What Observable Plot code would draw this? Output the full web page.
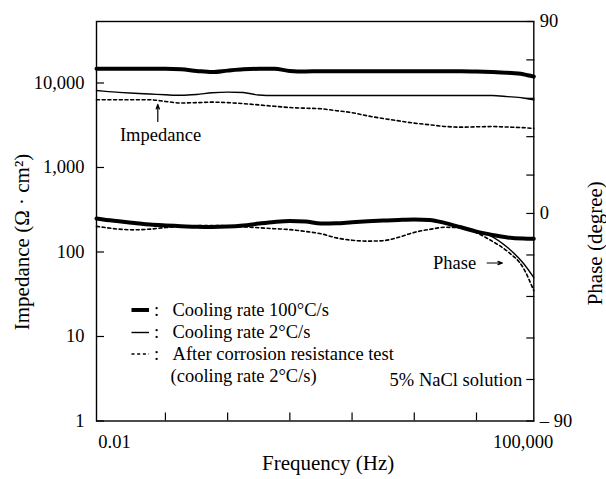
<!DOCTYPE html>
<html><head><meta charset="utf-8">
<script src="https://cdn.jsdelivr.net/npm/d3@7"></script>
<script src="https://cdn.jsdelivr.net/npm/@observablehq/plot@0.6"></script>
<style>html,body{margin:0;padding:0;background:#fff}</style>
</head><body><div id="chart"></div>
<script>
// Frequency grid (Hz), quarter-decade steps
const frequency = [0.0078, 0.01, 0.0178, 0.0316, 0.0562, 0.1, 0.178, 0.316, 0.562, 1, 1.78, 3.16, 5.62, 10, 17.8, 31.6, 56.2, 100, 178, 316, 562, 1000, 1780, 3160, 5620, 10000, 17800, 31600, 56200, 83400];
// Impedance (Ω·cm²)
const impedance100 = [14700,14700,14700,14700,14700,14700,14500,13900,13450,14000,14500,14700,14700,13900,13700,13800,13800,13800,13800,13800,13800,13800,13800,13800,13800,13700,13500,13200,12700,11900];
const impedance2 = [8150,8000,7750,7550,7400,7250,7150,7300,7650,7800,7700,7200,7100,7100,7100,7100,7100,7100,7100,7100,7100,7100,7100,7100,7100,7100,7100,6900,6650,6330];
const impedanceAfter = [6330,6330,6330,6330,6330,6050,5800,5850,5930,5850,5700,5500,5300,5120,5030,4950,4700,4450,4080,3800,3560,3350,3200,3060,3000,3030,3050,3010,2960,2900];
// Phase (degree)
const phase100 = [-2.2,-2.6,-3.4,-4.1,-4.8,-5.2,-5.5,-5.8,-5.9,-5.7,-5.2,-4.4,-3.7,-3.3,-3.5,-4.4,-4.3,-3.8,-3.4,-3.1,-2.8,-2.6,-2.8,-4.2,-6.0,-7.9,-9.3,-10.4,-10.9,-11.0];
const phase2 = [-2.2,-2.6,-3.4,-4.1,-4.8,-5.2,-5.5,-5.8,-5.9,-5.7,-5.2,-4.4,-3.7,-3.3,-3.5,-4.4,-4.3,-3.8,-3.4,-3.1,-2.8,-2.6,-2.8,-4.2,-6.0,-7.9,-10.0,-14.8,-21.5,-27.8];
const phaseAfter = [-5.6,-6.0,-6.8,-7.1,-6.8,-6.1,-5.6,-5.3,-5.2,-5.4,-5.8,-6.2,-6.6,-7.0,-7.8,-8.8,-10.6,-11.6,-12.0,-11.8,-10.3,-8.2,-6.9,-6.0,-6.2,-8.4,-12.0,-16.5,-23.5,-33.5];

// Axes
const impedanceTicks = [1, 10, 100, 1000, 10000];
const phaseTicks = [-90, -72, -54, -36, -18, 0, 18, 36, 54, 72, 90];
const phaseLabelTicks = [-90, 0, 90];
const freqTicks = [0.1, 1, 10, 100, 1000, 10000];
const legendLabels = ["Cooling rate 100\u00B0C/s", "Cooling rate 2\u00B0C/s", "After corrosion resistance test", "(cooling rate 2\u00B0C/s)"];

const Z_TOP = 53400;
const X_DOMAIN = [0.0078, 83400];
// right (phase) axis mapped onto the left log scale
const phaseToLog = d3.scaleLinear().domain([-90, 0, 90]).range([0, 2.456, Math.log10(Z_TOP)]);
const phaseToZ = p => Math.pow(10, phaseToLog(p));
const phaseText = p => p < 0 ? "\u2013 " + (-p) : String(p);

const mk = (vals, conv = v => v) => frequency.map((f, i) => ({f, v: conv(vals[i])}));
const font = "Liberation Serif";
const FS = 18.5;

// annotation anchors (data units)
const legendY = [20.6, 11.15, 6.21, 3.36];
const legendX = {sample1: 0.029, sample2: 0.0555, colon: 0.072, text: 0.130, text4: 0.121};
const legendRows = legendLabels.map((t, i) => ({t, y: legendY[i], x: i === 3 ? legendX.text4 : legendX.text}));

const chart = Plot.plot({
  width: 606, height: 479,
  marginLeft: 96, marginRight: 72.7, marginTop: 21, marginBottom: 58.5,
  style: {fontFamily: font, fontSize: FS + "px", background: "#fff", color: "#000"},
  x: {type: "log", domain: X_DOMAIN},
  y: {type: "log", domain: [1, Z_TOP]},
  marks: [
    // ticks (inward)
    Plot.axisX(freqTicks, {tickSize: -8, fill: "none", label: null, strokeWidth: 1.2}),
    Plot.axisY(impedanceTicks, {anchor: "left", tickSize: -8, fill: "none", label: null, strokeWidth: 1.2}),
    Plot.axisY(phaseTicks.map(phaseToZ), {anchor: "right", tickSize: -8, fill: "none", label: null, strokeWidth: 1.2}),
    // tick labels
    Plot.axisY(impedanceTicks, {anchor: "left", tickSize: 0, tickPadding: 12, tickFormat: d3.format(","), label: null, fontSize: FS, fontFamily: font}),
    Plot.text(phaseLabelTicks, {y: d => phaseToZ(d), frameAnchor: "right", dx: 6, textAnchor: "start", text: phaseText, fontSize: FS, fontFamily: font}),
    Plot.axisX([0.01], {tickSize: 0, tickPadding: 13.4, dx: 11.3, tickFormat: () => "0.01", label: null, fontSize: FS, fontFamily: font}),
    Plot.axisX([100000], {tickSize: 0, tickPadding: 13.4, dx: -15.6, tickFormat: () => "100,000", label: null, fontSize: FS, fontFamily: font}),
    Plot.frame({stroke: "#000", strokeWidth: 1.4}),
    // impedance curves
    Plot.line(mk(impedance100), {x: "f", y: "v", curve: "monotone-x", stroke: "#000", strokeWidth: 4}),
    Plot.line(mk(impedance2), {x: "f", y: "v", curve: "monotone-x", stroke: "#000", strokeWidth: 1.4}),
    Plot.line(mk(impedanceAfter), {x: "f", y: "v", curve: "monotone-x", stroke: "#000", strokeWidth: 1.6, strokeDasharray: "3,2.7"}),
    // phase curves
    Plot.line(mk(phaseAfter, phaseToZ), {x: "f", y: "v", curve: "monotone-x", stroke: "#000", strokeWidth: 1.6, strokeDasharray: "3,2.7"}),
    Plot.line(mk(phase2, phaseToZ), {x: "f", y: "v", curve: "monotone-x", stroke: "#000", strokeWidth: 1.4}),
    Plot.line(mk(phase100, phaseToZ), {x: "f", y: "v", curve: "monotone-x", stroke: "#000", strokeWidth: 4}),
    // legend
    Plot.ruleY([legendY[0]], {x1: legendX.sample1, x2: legendX.sample2, stroke: "#000", strokeWidth: 4}),
    Plot.ruleY([legendY[1]], {x1: legendX.sample1, x2: legendX.sample2, stroke: "#000", strokeWidth: 1.4}),
    Plot.ruleY([legendY[2]], {x1: legendX.sample1, x2: legendX.sample2, stroke: "#000", strokeWidth: 1.6, strokeDasharray: "3,2.7"}),
    Plot.text(legendY.slice(0, 3), {x: legendX.colon, y: d => d, text: () => ":", fontSize: FS, fontFamily: font}),
    Plot.text(legendRows, {x: "x", y: "y", text: "t", textAnchor: "start", fontSize: FS, fontFamily: font}),
    // annotations
    Plot.text(["Impedance"], {x: 0.0834, y: 2393, text: d => d, fontSize: FS, fontFamily: font}),
    Plot.arrow([{x1: 0.0754, y1: 3500, x2: 0.0754, y2: 5570}], {x1: "x1", y1: "y1", x2: "x2", y2: "y2", stroke: "#000", strokeWidth: 1.2, headLength: 6, headAngle: 40}),
    Plot.text(["Phase"], {x: 4440, y: 74.1, text: d => d, fontSize: FS, fontFamily: font}),
    Plot.arrow([{x1: 14860, y1: 74.1, x2: 26180, y2: 74.1}], {x1: "x1", y1: "y1", x2: "x2", y2: "y2", stroke: "#000", strokeWidth: 1.2, headLength: 6, headAngle: 40}),
    Plot.text(["5% NaCl solution"], {x: 54300, y: 3.02, text: d => d, textAnchor: "end", fontSize: FS, fontFamily: font}),
    // axis titles
    Plot.text(["Frequency (Hz)"], {frameAnchor: "bottom", dx: 13, dy: 49.3, text: d => d, textAnchor: "middle", fontSize: 21, fontFamily: font}),
    Plot.text(["Impedance (\u03A9 \u00B7 cm\u00B2)"], {frameAnchor: "left", dx: -74.3, dy: 20.75, rotate: -90, textAnchor: "middle", text: d => d, fontSize: 21, fontFamily: font}),
    Plot.text(["Phase (degree)"], {frameAnchor: "right", dx: 61.7, dy: 22, rotate: -90, textAnchor: "middle", text: d => d, fontSize: 21, fontFamily: font})
  ]
});
document.getElementById("chart").appendChild(chart);
</script>
</body></html>
